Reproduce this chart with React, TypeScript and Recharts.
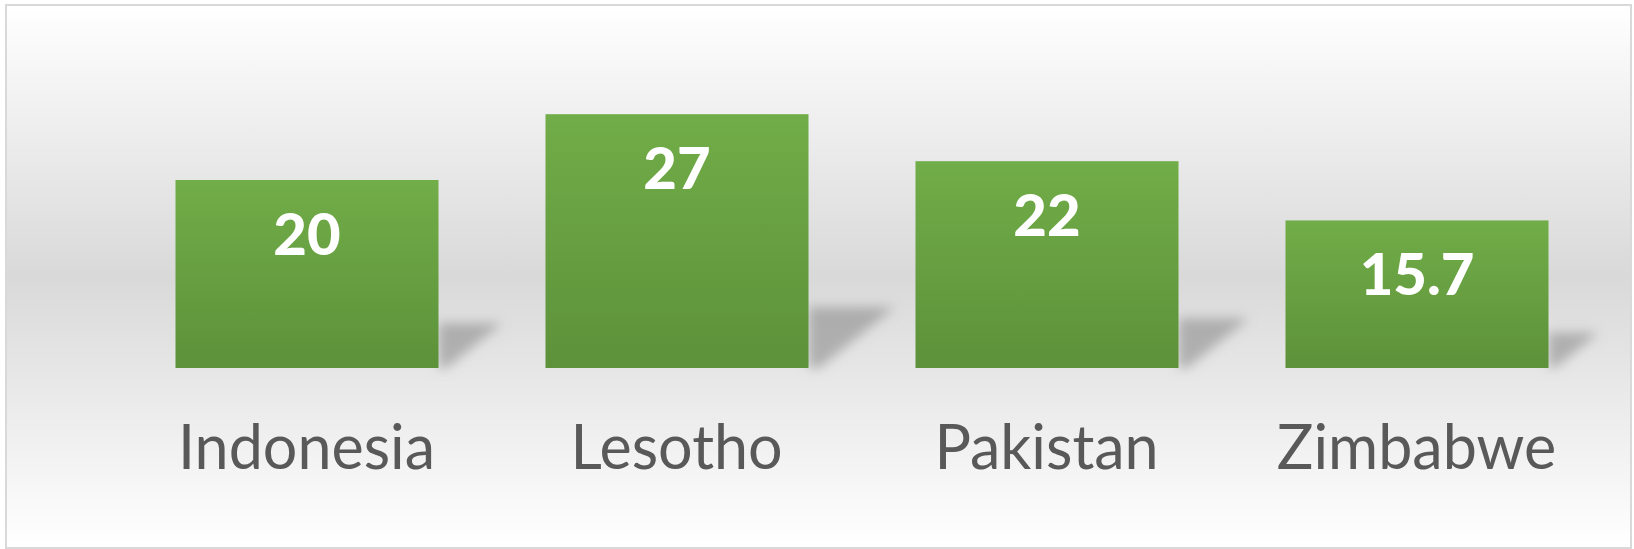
import React from 'react';
import { BarChart, Bar, XAxis, YAxis, LabelList } from 'recharts';

const countries = ['Indonesia', 'Lesotho', 'Pakistan', 'Zimbabwe'];
const values = [20, 27, 22, 15.7];
const valueLabels = ['20', '27', '22', '15.7'];

const data = countries.map((name, i) => ({ name, value: values[i], label: valueLabels[i] }));

const FONT = 'Lato, "Open Sans", sans-serif';

// bar with the skewed drop shadow behind it
const ShadowBar = (props: any) => {
  const { x, y, width, height } = props;
  if (height <= 0) return null;
  const right = x + width;
  const bottom = y + height;
  const sh = height * 0.24;
  const ex = height * 0.34;
  const pts = [
    [right, bottom - sh],
    [right + ex, bottom - sh],
    [right + ex * 0.12, bottom],
    [right, bottom],
  ]
    .map((p) => p.join(','))
    .join(' ');
  return (
    <g>
      <polygon points={pts} fill="#8c8c8c" fillOpacity={0.6} filter="url(#shadowBlur)" />
      <rect x={x} y={y} width={width} height={height} fill="url(#barFill)" />
    </g>
  );
};

const ValueLabel = (props: any) => {
  const { x, y, width, value } = props;
  return (
    <text
      x={x + width / 2}
      y={y + 75}
      textAnchor="middle"
      fill="#ffffff"
      fontFamily={FONT}
      fontWeight={900}
      fontSize={58}
    >
      {value}
    </text>
  );
};

const CategoryTick = (props: any) => {
  const { x, y, payload } = props;
  return (
    <text x={x} y={y + 101} textAnchor="middle" fill="#595959" fontFamily={FONT} fontSize={61}>
      {payload.value}
    </text>
  );
};

export default function App() {
  return (
    <div style={{ position: 'absolute', left: 0, top: 0, width: 1634, height: 549 }}>
      <div
        style={{
          position: 'absolute',
          left: 5,
          top: 4,
          width: 1627,
          height: 545,
          boxSizing: 'border-box',
          border: '2px solid #d9d9d9',
          background: 'linear-gradient(to bottom, #ffffff 0%, #d9d9d9 50%, #ffffff 100%)',
        }}
      />
      <div style={{ position: 'absolute', left: 0, top: 0 }}>
        <BarChart
          width={1634}
          height={549}
          data={data}
          margin={{ top: 86, right: 32.5, left: 121.5, bottom: 81 }}
        >
          <defs>
            <linearGradient id="barFill" x1="0" y1="0" x2="0" y2="1">
              <stop offset="0%" stopColor="#71ad48" />
              <stop offset="100%" stopColor="#5d913a" />
            </linearGradient>
            <filter id="shadowBlur" x="-50%" y="-50%" width="200%" height="200%">
              <feGaussianBlur stdDeviation="6" />
            </filter>
          </defs>
          <XAxis
            dataKey="name"
            height={100}
            axisLine={false}
            tickLine={false}
            tickSize={0}
            tickMargin={0}
            tick={<CategoryTick />}
            interval={0}
          />
          <YAxis hide domain={[0, 30]} width={0} />
          <Bar dataKey="value" barSize={263} shape={<ShadowBar />} isAnimationActive={false}>
            <LabelList dataKey="label" content={<ValueLabel />} />
          </Bar>
        </BarChart>
      </div>
    </div>
  );
}
